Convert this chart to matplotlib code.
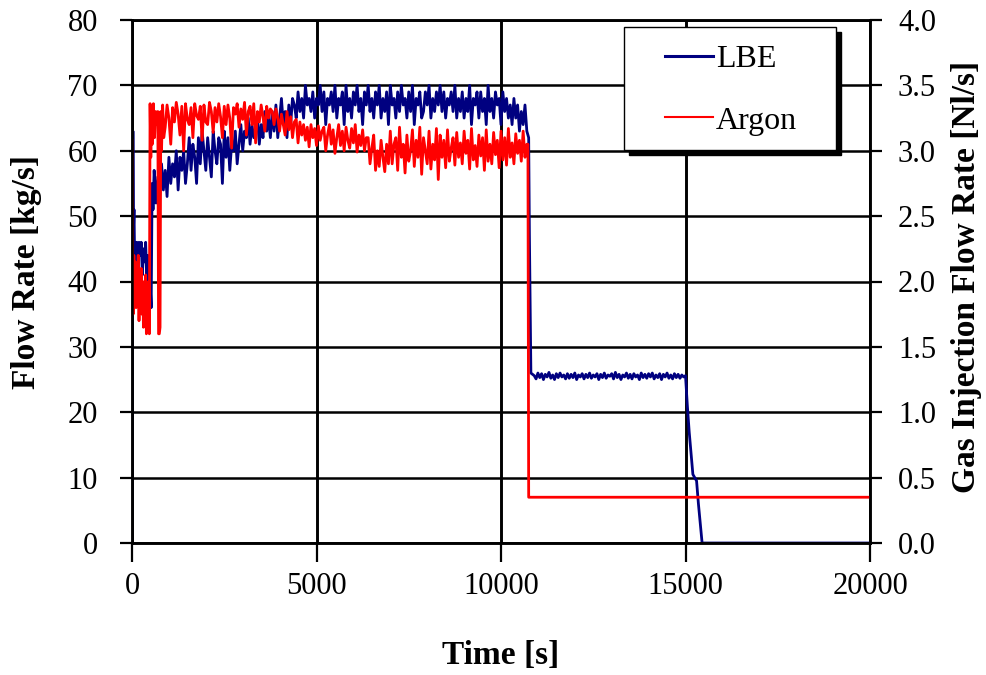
import numpy as np
import matplotlib
matplotlib.use("Agg")
import matplotlib.pyplot as plt
from matplotlib.lines import Line2D
from matplotlib.patches import Rectangle

plt.rcParams['font.family'] = ['Liberation Serif', 'DejaVu Serif']

# ---------------- data ----------------
# LBE flow rate [kg/s]
lbe_start_t = [0, 10, 25, 40, 55, 70, 90, 110, 130, 160, 190, 220, 250, 280, 310,
               340, 370, 400, 430, 460, 490, 520, 545, 570]
lbe_start_v = [0, 28, 63, 48, 51, 44, 46, 43, 46, 42, 46, 44, 46, 41, 45,
               43, 46, 40, 44, 38, 40, 36, 55, 51]
lbe_noisy_t = np.arange(600, 10701, 50)
lbe_noisy_v = [57, 52, 56, 53, 58, 54, 57, 53,
               59, 55, 58, 56, 60, 54, 59, 57, 60, 55,
               58, 62, 57, 61, 59, 55, 62, 58, 63, 60,
               57, 62, 59, 56, 63, 60, 58, 62, 61, 55,
               63, 59, 62, 57, 61, 60, 63, 58,
               61, 64, 60, 63, 62, 65, 61, 64, 62, 63,
               65, 61, 64, 62, 66, 63, 65, 62,
               66, 63, 67, 62, 65, 68, 64, 66, 62, 67, 64, 68,
               67, 65, 69, 66, 68, 65, 70, 67, 68, 66,
               69, 65, 68, 67, 70, 66, 69, 64, 68, 67,
               69, 66, 70, 65, 68, 67, 69, 64, 70, 66,
               68, 65, 69, 67, 70, 66, 68, 64, 69, 67,
               70, 66, 68, 65, 69, 67, 70, 65, 68, 66,
               69, 64, 70, 67, 68, 65, 69, 66, 70, 67,
               68, 65, 69, 66, 70, 64, 68, 67, 69, 65,
               66, 69, 67, 70, 65, 68, 66, 69, 67, 70,
               66, 69, 65, 68, 67, 69, 66, 70, 65, 68,
               66, 69, 65, 68, 66, 70, 64, 68, 67, 69,
               65, 69, 66, 68, 64, 70, 66, 68, 65, 69,
               67, 68, 64, 69, 66, 68, 65, 67, 64, 68,
               65, 67, 63, 66, 64, 67, 63]
lbe_drop_t = [10750, 10770, 10790, 10810]
lbe_drop_v = [62, 47, 37, 26]
lbe_flat_t = np.arange(10900, 15001, 50)
lbe_flat_v = [25.6, 25.1, 26.0, 25.3, 25.9, 25.0, 25.8, 25.4, 26.1, 25.2,
              25.7, 25.0, 25.9, 25.3, 26.0, 25.4, 25.7, 25.1, 25.9, 25.2,
              25.8, 25.3, 26.0, 25.0, 25.7, 25.4, 25.9, 25.1, 25.8, 25.3,
              26.0, 25.2, 25.7, 25.4, 25.9, 25.0, 25.8, 25.3, 26.0, 25.2,
              25.7, 25.5, 25.9, 25.1, 26.1, 25.3, 25.8, 25.0, 25.7, 25.4,
              26.0, 25.2, 25.8, 25.1, 25.9, 25.4, 25.7, 25.0, 26.0, 25.3,
              25.8, 25.2, 25.9, 25.4, 26.0, 25.1, 25.7, 25.3, 25.9, 25.0,
              25.8, 25.4, 26.0, 25.2, 25.7, 25.1, 25.9, 25.3, 25.8, 25.2,
              25.7, 25.4, 25.6]
lbe_end_t = [15050, 15100, 15200, 15300, 15350, 15400, 15450, 20000]
lbe_end_v = [21, 17, 10.5, 9.5, 6, 3, 0, 0]

# Argon gas injection flow rate [Nl/s]
ar_start_t = [0, 15, 30, 50, 70, 90, 110, 130, 150, 170, 190, 210, 230, 250, 270,
              290, 310, 330, 350, 370, 390, 410, 430, 450, 470, 490,
              510, 530, 550, 580, 610, 640, 670, 700, 720, 740, 760, 780, 800,
              830, 860]
ar_start_v = [3.08, 2.25, 1.75, 2.2, 1.9, 2.15, 1.8, 2.1, 1.95, 2.2, 1.7, 2.05, 1.85, 2.1, 1.75,
              2.0, 1.65, 1.95, 1.8, 2.05, 1.6, 1.9, 1.7, 2.0, 1.6, 3.36,
              2.95, 3.3, 3.05, 3.36, 3.1, 3.3, 3.2, 3.3, 1.6, 1.6, 1.65, 3.3, 3.0,
              3.35, 3.1]
ar_noisy_t = np.arange(900, 10701, 50)
ar_noisy_v = [3.18, 3.35, 3.25, 3.05, 3.33, 3.22, 3.37, 3.28, 3.12, 3.34,
              3.0, 3.36, 3.24, 3.2, 3.33, 3.1, 3.36, 3.27, 3.24, 3.34,
              3.08, 3.35, 3.22, 3.2, 3.37, 3.3, 3.14, 3.33, 3.22, 3.36,
              3.26, 3.1, 3.34, 3.2, 3.35, 3.25, 3.02, 3.33, 3.28, 3.36,
              3.18, 3.32, 3.24, 3.37, 3.12, 3.3, 3.34, 3.2, 3.36, 3.06,
              3.3, 3.22, 3.35, 3.26, 3.15, 3.34, 3.25, 3.32,
              3.3, 3.2, 3.32, 3.25, 3.15, 3.28, 3.2, 3.12, 3.3, 3.16,
              3.26, 3.1, 3.22, 3.24, 3.06, 3.22, 3.12, 3.2, 3.08, 3.18,
              3.03, 3.2, 3.1, 3.17, 3.04, 3.19, 3.08, 3.15,
              3.18, 3.0, 3.12, 3.2, 3.05, 3.16, 2.98, 3.1, 3.2, 3.04,
              3.15, 3.0, 3.18, 3.08, 3.02, 3.17, 3.06, 3.2, 2.99, 3.12,
              3.04, 3.16, 3.0, 3.1,
              3.1, 2.9, 3.02, 3.12, 2.85, 3.0, 2.88, 3.08, 2.95, 2.84, 3.05, 2.9,
              3.15, 2.9, 3.05, 3.1, 2.85, 3.18, 2.95, 3.05, 2.83, 3.12,
              2.92, 3.0, 3.16, 2.88, 3.08, 2.95, 3.18, 2.82, 3.1, 3.0,
              2.9, 3.15, 2.86, 3.05, 2.93, 3.17, 2.78, 3.12, 2.95, 3.08,
              2.87, 3.16, 2.92, 3.02, 3.1, 2.89, 3.14, 2.95, 3.06, 2.9,
              3.15, 2.98, 3.08, 2.86, 3.17, 2.93, 3.04, 2.88, 3.12, 2.96,
              3.1, 2.85, 3.16, 2.92, 3.05, 2.9, 3.14, 2.97, 3.08, 2.87,
              3.15, 2.93, 3.1, 2.89, 3.17, 2.95, 3.06, 2.9, 3.13, 2.98,
              3.08, 2.92, 3.15, 2.95, 3.05]
ar_end_t = [10730, 10750, 20000]
ar_end_v = [3.05, 0.35, 0.35]

x_ticks = [0, 5000, 10000, 15000, 20000]
y_left_ticks = [0, 10, 20, 30, 40, 50, 60, 70, 80]
y_right_ticks = [0.0, 0.5, 1.0, 1.5, 2.0, 2.5, 3.0, 3.5, 4.0]

n = min(len(lbe_noisy_t), len(lbe_noisy_v))
m = min(len(lbe_flat_t), len(lbe_flat_v))
k = min(len(ar_noisy_t), len(ar_noisy_v))
lbe_t = np.concatenate([lbe_start_t, lbe_noisy_t[:n], lbe_drop_t, lbe_flat_t[:m], lbe_end_t])
lbe_v = np.concatenate([lbe_start_v, lbe_noisy_v[:n], lbe_drop_v, lbe_flat_v[:m], lbe_end_v])
ar_t = np.concatenate([ar_start_t, ar_noisy_t[:k], ar_end_t])
ar_v = np.concatenate([ar_start_v, ar_noisy_v[:k], ar_end_v])

# ---------------- figure ----------------
fig = plt.figure(figsize=(9.87, 6.75), dpi=100)
ax = fig.add_axes([132/987, 1-543/675, 738/987, 523/675])
ax2 = ax.twinx()

navy = '#000080'
red = '#ff0000'
ax.plot(lbe_t, lbe_v, color=navy, lw=2.0)
ax2.plot(ar_t, ar_v, color=red, lw=2.0)

ax.set_xlim(0, 20000)
ax.set_ylim(0, 80)
ax2.set_ylim(0, 4)
ax.set_xticks(x_ticks)
ax.set_yticks(y_left_ticks)
ax2.set_yticks(y_right_ticks)
ax2.set_yticklabels([f"{v:.1f}" for v in y_right_ticks])

ax.grid(True, axis='x', color='black', lw=2.1)
ax.grid(True, axis='y', color='black', lw=1.8)
for a in (ax, ax2):
    for s in a.spines.values():
        s.set_linewidth(1.8)
        s.set_color('black')

ax.tick_params(axis='y', direction='out', length=8.6, width=1.6, pad=16, labelsize=22)
ax.tick_params(axis='x', direction='out', length=14, width=1.6, pad=7, labelsize=22)
ax2.tick_params(axis='y', direction='out', length=8.6, width=1.6, pad=11.5, labelsize=22)

ax.set_xlabel('Time [s]', fontsize=24, fontweight='bold', va='center')
ax.xaxis.set_label_coords(0.5, (543-655)/523)
ax.set_ylabel('Flow Rate [kg/s]', fontsize=24, fontweight='bold', va='center', ha='center')
ax.yaxis.set_label_coords((26.5-132)/738, (543-272)/523)
ax2.set_ylabel('Gas Injection Flow Rate [Nl/s]', fontsize=24, fontweight='bold',
               va='center', ha='center', rotation=90)
ax2.yaxis.set_label_coords((966-132)/738, (543-277)/523)

# legend box with solid shadow
bx, by, bw, bh = (624-132)/738, (543-150)/523, 212/738, 123/523
ax2.add_patch(Rectangle((bx + 5/738, by - 5/523), bw, bh, transform=ax2.transAxes,
                        facecolor='black', edgecolor='black', zorder=8, clip_on=False))
ax2.add_patch(Rectangle((bx, by), bw, bh, transform=ax2.transAxes,
                        facecolor='white', edgecolor='black', lw=1.0, zorder=9, clip_on=False))
handles = [Line2D([], [], color=navy, lw=2.2), Line2D([], [], color=red, lw=1.5)]
leg = ax2.legend(handles, ['LBE', 'Argon'], frameon=False, loc='upper left',
                 bbox_to_anchor=((665-132)/738, (543-45)/523), borderpad=0,
                 borderaxespad=0, handlelength=1.5, handletextpad=0.1,
                 labelspacing=1.0, fontsize=23)
leg.set_zorder(10)

fig.savefig('out.png', dpi=100)
